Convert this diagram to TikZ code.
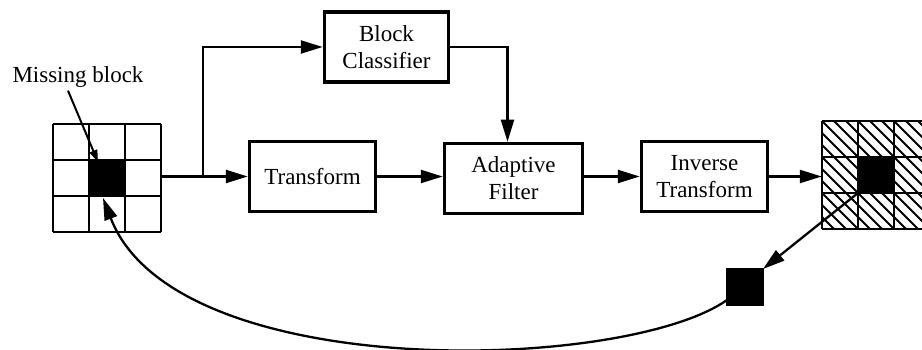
\documentclass[tikz,border=0pt]{standalone}
\usepackage{fontspec}
\setmainfont{Liberation Serif}
\usetikzlibrary{arrows.meta}
\begin{document}
\begin{tikzpicture}[x=1pt,y=-1pt,
  lbl/.style={font=\fontsize{23}{27}\selectfont, align=center, inner sep=0pt},
  stage/.style={lbl, draw, line width=3.5pt, minimum height=70pt},
  tip/.style={-{Triangle[length=22pt,width=13pt]}},
  conn/.style={line width=2.3pt, tip},
  cell/.style={draw, line width=2pt, minimum size=36pt, inner sep=0pt, outer sep=0pt},
  gridline/.style={line width=2pt},
  hatch/.style={line width=1.8pt}
]
\useasboundingbox (0,0) rectangle (922,350);

% processing stages
\node[stage, minimum width=124pt] (cls) at (386.5,47) {Block\\Classifier};
\node[stage, minimum width=126pt] (tf)  at (312.5,176.5) {Transform};
\node[stage, minimum width=138pt] (af)  at (513.5,178.5) {Adaptive\\Filter};
\node[stage, minimum width=126pt] (itf) at (704.5,176.5) {Inverse\\Transform};

% input block neighbourhood (3x3) with the missing block in the middle
\node[minimum width=108pt, minimum height=108pt, inner sep=0pt] (lgrid) at (107,178) {};
\foreach \k in {0,1,2,3} {
  \draw[gridline] ({53+36*\k},124) -- ({53+36*\k},232);
  \draw[gridline] (53,{124+36*\k}) -- (161,{124+36*\k});
}
\node[cell, fill=black] (lblack) at (107,178) {};

\node[lbl] (mb) at (78,77) {Missing block};
\draw[line width=2pt, -{Triangle[length=12pt,width=8pt]}]
  ([xshift=-10pt,yshift=-3pt]mb.south) -- ([xshift=-9pt,yshift=-2pt]lblack.north);

% restored neighbourhood (hatched) with the recovered block
\begin{scope}
  \clip (0,0) rectangle (922,350);
  \node[minimum width=108pt, minimum height=108pt, inner sep=0pt] (rgrid) at (876,175) {};
  \begin{scope}
    \clip (822,121) rectangle (930,229);
    \foreach \c in {569,581,...,809}
      \draw[hatch] ({\c+121},121) -- ({\c+229},229);
  \end{scope}
  \foreach \k in {0,1,2,3} {
    \draw[gridline] ({822+36*\k},121) -- ({822+36*\k},229);
    \draw[gridline] (822,{121+36*\k}) -- (930,{121+36*\k});
  }
  \node[cell, fill=black] (rblack) at (876,175) {};
\end{scope}

% extracted block
\node[cell, fill=black] (sq) at (745,287) {};

% signal flow
\coordinate (split) at (203,176.5);
\draw[line width=2.3pt] (lgrid.east |- tf.west) -- (split);
\draw[conn] (split) -- (tf.west);
\draw[conn] (split) |- (cls.west);
\draw[conn] (tf.east) -- (af.west |- tf.east);
\draw[conn] (cls.east) -| ([xshift=-6pt]af.north);
\draw[conn] (af.east |- itf.west) -- (itf.west);
\draw[conn] (itf.east) -- (rgrid.west |- itf.east);

% feedback of the recovered block
\draw[conn] (rblack.south west) -- (sq.north east);
\draw[conn] ([yshift=5pt]sq.south west)
  .. controls (625,372) and (175,385) .. ([xshift=-4pt,yshift=-2pt]lblack.south);
\end{tikzpicture}
\end{document}
